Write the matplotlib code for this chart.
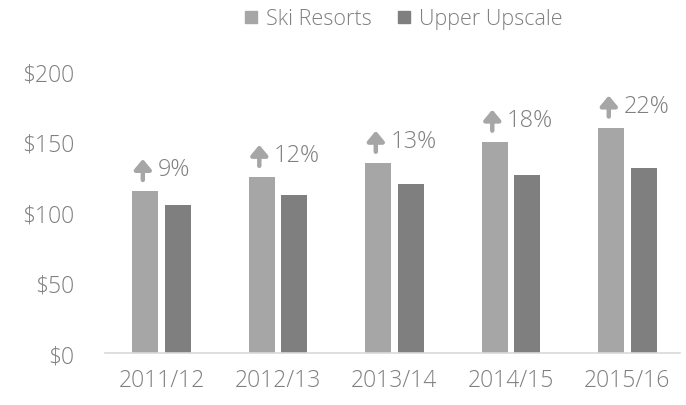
import matplotlib.pyplot as plt
import numpy as np

# data
seasons = ["2011/12", "2012/13", "2013/14", "2014/15", "2015/16"]
ski_resorts = [115, 125, 135, 150, 160]
upper_upscale = [105, 112, 120, 126, 131]
growth_labels = ["9%", "12%", "13%", "18%", "22%"]
yticks = [0, 50, 100, 150, 200]

light = "#a6a6a6"
dark = "#7f7f7f"
text_col = "#7f7f7f"

plt.rcParams['font.family'] = ['Open Sans', 'DejaVu Sans']
plt.rcParams['font.weight'] = 'light'

fig = plt.figure(figsize=(6.86, 4.06), dpi=100)
ax = fig.add_axes([0.153, 0.128, 0.838, 0.729])

x = np.arange(len(seasons))
w = 0.225
ax.bar(x - 0.14, ski_resorts, w, color=light, label="Ski Resorts")
ax.bar(x + 0.14, upper_upscale, w, color=dark, label="Upper Upscale")

# growth arrows + labels above the ski resort bars
px = 1 / 1.41  # data units per pixel
for i, (v, lab) in enumerate(zip(ski_resorts, growth_labels)):
    ax.annotate("", xy=(i - 0.16, v + 32 * px), xytext=(i - 0.16, v + 11 * px),
                arrowprops=dict(arrowstyle="-|>,head_width=0.5,head_length=0.6",
                                color=light, lw=3.2, shrinkA=0, shrinkB=0))
    ax.text(i - 0.16 + 0.125, v + 22 * px, lab, color=text_col, fontsize=17,
            ha="left", va="center")

ax.set_xlim(-0.485, 4.45)
ax.set_ylim(0, 210)
ax.set_xticks(x)
ax.set_xticklabels(seasons)
ax.set_yticks(yticks)
ax.set_yticklabels([f"${t}" for t in yticks])
ax.tick_params(axis="both", length=0, labelsize=16.5, labelcolor=text_col)
ax.tick_params(axis="y", pad=22)
ax.tick_params(axis="x", pad=11)

for s in ["top", "right", "left"]:
    ax.spines[s].set_visible(False)
ax.spines["bottom"].set_color("#d9d9d9")
ax.spines["bottom"].set_linewidth(1.2)

handles = [plt.Line2D([], [], marker="s", ls="", color=light, markersize=8),
           plt.Line2D([], [], marker="s", ls="", color=dark, markersize=8)]
fig.legend(handles, ["Ski Resorts", "Upper Upscale"], loc="center",
           bbox_to_anchor=(0.585, 0.951), ncol=2, frameon=False,
           fontsize=15.5, labelcolor=text_col, handletextpad=0.2,
           columnspacing=1.0, handlelength=1.0)

fig.savefig("out.png", dpi=100)
